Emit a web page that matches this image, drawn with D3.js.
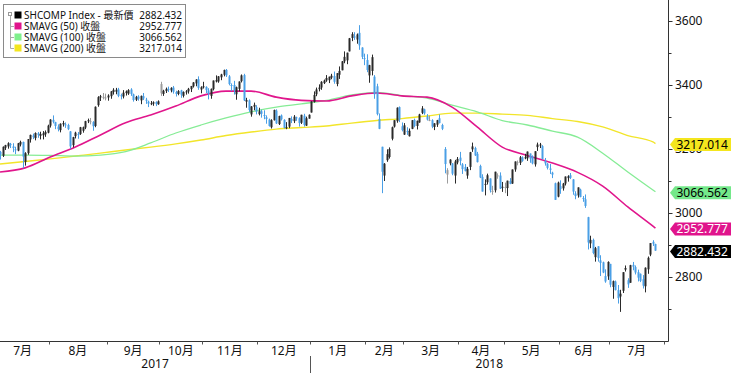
<!DOCTYPE html>
<html>
<head>
<meta charset="utf-8">
<script src="https://cdn.jsdelivr.net/npm/d3@7"></script>
<style>
  body { margin: 0; background: #fff; }
  svg { display: block; }
  text { font-family: "Noto Sans", "Noto Sans CJK TC", sans-serif; }
</style>
</head>
<body>
<script>
  // daily candles, [open, high, low, close], one array per month
  var jul17 = [[3187,3196,3173,3195],[3191,3194,3167,3183],[3179,3208,3175,3207],[3204,3213,3197,3212],[3208,3221,3201,3218],
    [3216,3219,3203,3212],[3208,3218,3190,3203],[3199,3207,3184,3197],[3195,3219,3193,3218],[3214,3226,3208,3222],
    [3222,3223,3140,3176],[3160,3190,3148,3187],[3187,3231,3182,3231],[3230,3245,3220,3244],[3242,3248,3231,3237],
    [3234,3252,3227,3250],[3249,3253,3235,3244],[3241,3254,3230,3247],[3243,3256,3230,3249],[3246,3258,3238,3253],
    [3251,3276,3249,3273]];
  var aug17 = [[3273,3293,3267,3292],[3291,3305,3280,3285],[3284,3285,3262,3272],[3270,3277,3255,3262],[3259,3280,3252,3279],
    [3277,3288,3270,3281],[3277,3283,3266,3275],[3275,3279,3259,3262],[3255,3256,3200,3208],[3212,3238,3205,3237],
    [3240,3254,3233,3251],[3247,3253,3232,3246],[3247,3269,3244,3268],[3257,3270,3251,3268],[3267,3288,3262,3287],
    [3287,3295,3281,3290],[3286,3297,3277,3287],[3284,3287,3257,3271],[3272,3333,3268,3332],[3337,3365,3332,3362],
    [3361,3369,3350,3365],[3362,3375,3355,3363],[3360,3373,3352,3361]];
  var sep17 = [[3361,3371,3351,3367],[3365,3381,3357,3380],[3378,3390,3370,3385],[3379,3391,3371,3385],[3386,3391,3362,3366],
    [3368,3373,3355,3365],[3364,3384,3358,3376],[3375,3383,3367,3380],[3373,3387,3369,3384],[3386,3390,3366,3372],
    [3371,3373,3348,3353],[3354,3366,3350,3363],[3364,3368,3351,3357],[3352,3367,3340,3366],[3365,3375,3353,3358],
    [3354,3360,3341,3353],[3348,3351,3331,3342],[3341,3350,3337,3343],[3342,3349,3335,3346],[3347,3349,3334,3340],
    [3340,3352,3338,3349]];
  var oct17 = [[3403,3410,3366,3374],[3372,3385,3366,3382],[3381,3392,3375,3388],[3388,3395,3378,3386],[3383,3393,3377,3391],
    [3392,3397,3373,3379],[3378,3382,3364,3372],[3372,3384,3368,3381],[3383,3385,3360,3370],[3366,3380,3361,3378],
    [3378,3384,3370,3380],[3380,3391,3373,3388],[3387,3397,3378,3397],[3396,3409,3392,3408],[3405,3418,3396,3417],
    [3418,3427,3385,3391],[3386,3396,3374,3393]];
  var nov17 = [[3394,3410,3389,3396],[3394,3396,3375,3384],[3383,3390,3355,3372],[3366,3389,3357,3388],[3387,3414,3383,3414],
    [3411,3430,3408,3415],[3411,3428,3407,3427],[3424,3435,3415,3433],[3432,3448,3427,3447],[3447,3450,3425,3430],
    [3427,3431,3399,3403],[3400,3405,3381,3399],[3400,3413,3370,3383],[3371,3395,3354,3393],[3388,3411,3380,3411],
    [3412,3433,3408,3430],[3431,3435,3350,3352],[3348,3360,3329,3353],[3352,3355,3316,3322],[3308,3334,3301,3333],
    [3332,3345,3321,3338],[3331,3337,3308,3317]];
  var dec17 = [[3309,3329,3305,3318],[3318,3323,3298,3310],[3306,3321,3293,3304],[3299,3305,3279,3294],[3292,3295,3270,3272],
    [3268,3293,3264,3290],[3290,3323,3289,3322],[3320,3324,3278,3280],[3278,3304,3275,3303],[3305,3308,3289,3293],
    [3291,3293,3264,3266],[3267,3284,3262,3268],[3270,3297,3265,3297],[3294,3302,3281,3288],[3287,3306,3281,3301],
    [3299,3301,3288,3297],[3296,3299,3270,3281],[3282,3307,3278,3307],[3304,3310,3270,3275],[3273,3301,3272,3296],
    [3295,3308,3295,3307]];
  var jan18 = [[3314,3349,3314,3349],[3347,3380,3345,3369],[3371,3392,3365,3386],[3387,3402,3380,3392],[3392,3412,3385,3410],
    [3406,3417,3403,3414],[3414,3431,3410,3422],[3415,3426,3406,3426],[3423,3435,3418,3429],[3428,3442,3404,3410],
    [3403,3437,3396,3437],[3432,3458,3419,3444],[3446,3475,3446,3474],[3474,3505,3468,3488],[3477,3501,3465,3501],
    [3505,3547,3505,3546],[3547,3565,3537,3559],[3552,3565,3541,3548],[3542,3561,3529,3558],[3563,3587,3510,3524],
    [3517,3518,3481,3488],[3484,3498,3462,3481]];
  var feb18 = [[3478,3496,3440,3447],[3430,3463,3407,3462],[3444,3495,3430,3487],[3426,3431,3357,3371],[3396,3404,3305,3309],
    [3294,3311,3262,3263],[3207,3207,3062,3129],[3117,3156,3100,3154],[3165,3199,3160,3184],[3175,3205,3170,3200],
    [3232,3270,3227,3268],[3270,3290,3267,3290],[3287,3330,3282,3329],[3331,3333,3284,3292],[3271,3283,3255,3259]];
  var mar18 = [[3245,3281,3244,3274],[3256,3268,3244,3254],[3240,3264,3239,3257],[3263,3290,3262,3290],[3291,3295,3268,3272],
    [3272,3289,3261,3288],[3283,3310,3282,3308],[3313,3334,3309,3327],[3324,3326,3307,3311],[3302,3309,3289,3292],
    [3290,3304,3287,3291],[3290,3293,3265,3270],[3269,3281,3259,3280],[3276,3291,3269,3290],[3296,3308,3280,3281],
    [3275,3279,3259,3263],[3200,3206,3124,3153],[3120,3140,3092,3134],[3155,3168,3149,3167],[3155,3156,3118,3123],
    [3117,3166,3092,3161],[3158,3175,3152,3169]];
  var apr18 = [[3173,3191,3149,3163],[3152,3156,3122,3137],[3144,3153,3130,3131],[3117,3144,3107,3138],[3144,3191,3134,3190],
    [3199,3220,3191,3208],[3203,3207,3178,3180],[3185,3191,3158,3159],[3147,3151,3109,3111],[3113,3121,3067,3067],
    [3088,3105,3055,3091],[3096,3123,3089,3118],[3108,3108,3064,3071],[3068,3085,3057,3069],[3071,3129,3064,3129],
    [3114,3124,3107,3118],[3117,3127,3075,3076],[3081,3097,3066,3082]];
  var may18 = [[3080,3095,3062,3081],[3078,3101,3053,3101],[3100,3109,3090,3091],[3092,3136,3091,3136],[3136,3161,3129,3161],
    [3158,3164,3149,3159],[3157,3178,3150,3174],[3174,3177,3160,3163],[3171,3185,3168,3174],[3171,3192,3163,3192],
    [3186,3186,3157,3170],[3176,3180,3152,3155],[3152,3193,3145,3193],[3206,3220,3194,3214],[3211,3219,3203,3214],
    [3209,3212,3167,3169],[3163,3172,3148,3155],[3154,3156,3136,3141],[3139,3153,3122,3135],[3126,3129,3109,3120],
    [3093,3095,3041,3041],[3051,3098,3049,3095]];
  var jun18 = [[3084,3102,3060,3075],[3077,3094,3070,3092],[3092,3114,3086,3114],[3109,3118,3098,3115],[3118,3125,3106,3110],
    [3105,3106,3057,3067],[3061,3068,3043,3053],[3055,3080,3048,3080],[3073,3076,3049,3050],[3047,3053,3035,3044],
    [3043,3058,3016,3022],[2987,2988,2886,2908],[2905,2929,2890,2916],[2916,2920,2871,2875],[2862,2894,2848,2890],
    [2896,2896,2848,2859],[2852,2868,2803,2844],[2846,2848,2812,2814],[2803,2824,2782,2786],[2802,2849,2791,2847]];
  var jul18 = [[2841,2841,2768,2776],[2769,2789,2732,2787],[2786,2789,2758,2759],[2759,2775,2717,2734],[2739,2760,2691,2748],
    [2757,2815,2750,2815],[2823,2836,2817,2828],[2790,2796,2766,2777],[2782,2838,2782,2837],[2838,2847,2821,2832],
    [2831,2836,2808,2814],[2815,2823,2786,2798],[2810,2811,2784,2788],[2793,2806,2764,2773],[2771,2830,2752,2829],
    [2824,2864,2810,2860],[2870,2906,2865,2906],[2910,2915,2897,2904],[2903,2904,2882,2882.432]];

  var monthLabels = ["7月", "8月", "9月", "10月", "11月", "12月", "1月", "2月", "3月", "4月", "5月", "6月", "7月"];
  var monthDays = [21, 23, 21, 17, 22, 21, 22, 15, 22, 18, 22, 20, 22];
  var yearLabels = ["2017", "2018"];
  var yearFirstMonth = [0, 6];

  // moving averages read at these trading-day indices
  var maIndex = [1, 11, 21, 31, 41, 51, 61, 71, 81, 91, 101, 111, 121, 131, 141, 151, 161, 171, 181, 191, 201, 211, 221, 231, 241, 251, 261, 262];
  var sma50 = [3128, 3141, 3175, 3206, 3244, 3282, 3306, 3334, 3366, 3381, 3381, 3362, 3352, 3350, 3366, 3375, 3366, 3362, 3331, 3269, 3206, 3180, 3156, 3127, 3084, 3019, 2959, 2952.777];
  var sma100 = [3181, 3181, 3180, 3178, 3181, 3192, 3219, 3250, 3275, 3297, 3316, 3331, 3341, 3352, 3369, 3377, 3367, 3359, 3337, 3316, 3289, 3275, 3256, 3237, 3187, 3128, 3072, 3066.562];
  var sma200 = [3153, 3161, 3169, 3178, 3187, 3197, 3206, 3216, 3228, 3242, 3253, 3262, 3267, 3272, 3281, 3289, 3295, 3303, 3312, 3312, 3309, 3305, 3295, 3286, 3269, 3242, 3222, 3217.014];

  var yMajor = [2800, 3000, 3200, 3400, 3600];
  var yMinor = [2700, 2900, 3100, 3300, 3500];

  var legendNames = ["SHCOMP Index - 最新價", "SMAVG (50) 收盤", "SMAVG (100) 收盤", "SMAVG (200) 收盤"];
  var legendValues = ["2882.432", "2952.777", "3066.562", "3217.014"];
  var legendColors = ["#000000", "#e0148c", "#7ff08c", "#f4e61e"];
  var tagColors = ["#000000", "#e0148c", "#74e88a", "#f4e61e"];
  var tagText = ["#ffffff", "#ffffff", "#000000", "#000000"];

  var candles = [].concat(jul17, aug17, sep17, oct17, nov17, dec17, jan18, feb18, mar18, apr18, may18, jun18, jul18);

  var width = 733, height = 373,
    plotRight = 668.5, plotBottom = 341.5;

  var svg = d3.select("body").append("svg")
    .attr("width", width)
    .attr("height", height);

  var x = d3.scaleLinear().domain([0, 267]).range([-2.5, 668]);
  var y = d3.scaleLinear().domain([2800, 3600]).range([277, 21]);

  svg.append("clipPath").attr("id", "plot")
    .append("rect").attr("x", 0).attr("y", 0).attr("width", plotRight).attr("height", plotBottom);

  var plot = svg.append("g").attr("clip-path", "url(#plot)");

  // moving averages
  var mas = [
    { values: sma200, color: "#f2e52a", width: 1.4 },
    { values: sma100, color: "#86ec96", width: 1.3 },
    { values: sma50, color: "#e0168c", width: 1.6 }
  ];
  var line = d3.line()
    .x(function(d) { return x(d[0]); })
    .y(function(d) { return y(d[1]); })
    .curve(d3.curveMonotoneX);

  plot.selectAll("path.ma")
    .data(mas)
    .enter().append("path")
    .attr("class", "ma")
    .attr("fill", "none")
    .attr("stroke", function(d) { return d.color; })
    .attr("stroke-width", function(d) { return d.width; })
    .attr("d", function(d) { return line(d.values.map(function(v, i) { return [maIndex[i], v]; })); });

  // candle colour: blue when it fell on the day, dark when it rose, grey when body and day disagree
  function candleColor(d, i) {
    var prev = i > 0 ? candles[i - 1][3] : d[0];
    var upBody = d[3] >= d[0], upDay = d[3] >= prev;
    if (upBody && upDay) return "#2a2a2a";
    if (!upBody && !upDay) return "#4a9fe6";
    return "#9c9c9c";
  }

  var candle = plot.selectAll("g.candle")
    .data(candles)
    .enter().append("g")
    .attr("class", "candle");

  candle.append("line")
    .attr("x1", function(d, i) { return Math.round(x(i)) + 0.5; })
    .attr("x2", function(d, i) { return Math.round(x(i)) + 0.5; })
    .attr("y1", function(d) { return y(d[1]); })
    .attr("y2", function(d) { return y(d[2]); })
    .attr("stroke", candleColor)
    .attr("stroke-width", 1);

  candle.append("rect")
    .attr("x", function(d, i) { return Math.round(x(i)) - 0.5; })
    .attr("width", 2)
    .attr("y", function(d) { return Math.min(y(d[0]), y(d[3])); })
    .attr("height", function(d) { return Math.max(1, Math.abs(y(d[0]) - y(d[3]))); })
    .attr("fill", candleColor);

  // right axis
  svg.append("line")
    .attr("x1", plotRight).attr("x2", plotRight)
    .attr("y1", 0).attr("y2", plotBottom)
    .attr("stroke", "#333");

  svg.selectAll("line.minor")
    .data(yMinor)
    .enter().append("line")
    .attr("x1", plotRight).attr("x2", plotRight + 3)
    .attr("y1", function(d) { return Math.round(y(d)) + 0.5; })
    .attr("y2", function(d) { return Math.round(y(d)) + 0.5; })
    .attr("stroke", "#333");

  svg.selectAll("line.major")
    .data(yMajor)
    .enter().append("line")
    .attr("x1", plotRight).attr("x2", plotRight + 4)
    .attr("y1", function(d) { return Math.round(y(d)) + 0.5; })
    .attr("y2", function(d) { return Math.round(y(d)) + 0.5; })
    .attr("stroke", "#333");

  svg.selectAll("text.ytick")
    .data(yMajor)
    .enter().append("text")
    .attr("x", 675)
    .attr("y", function(d) { return y(d); })
    .attr("dy", "0.35em")
    .attr("font-size", 12)
    .attr("fill", "#111")
    .text(function(d) { return d; });

  // last value tags
  var tagValues = legendValues.map(Number);
  var tag = svg.selectAll("g.tag")
    .data(tagValues)
    .enter().append("g")
    .attr("class", "tag")
    .attr("transform", function(d) { return "translate(0," + (y(d) + 1) + ")"; });

  tag.append("path")
    .attr("d", "M670,0L675,-6.5H731V6.5H675Z")
    .attr("fill", function(d, i) { return tagColors[i]; });

  tag.append("text")
    .attr("x", 676.5)
    .attr("dy", "0.36em")
    .attr("font-size", 12)
    .attr("fill", function(d, i) { return tagText[i]; })
    .text(function(d, i) { return legendValues[i]; });

  // bottom axis
  svg.append("line")
    .attr("x1", 0).attr("x2", plotRight)
    .attr("y1", plotBottom).attr("y2", plotBottom)
    .attr("stroke", "#333");

  var starts = [0];
  monthDays.forEach(function(n, i) { starts.push(starts[i] + n); });

  svg.selectAll("line.mtick")
    .data(starts.slice(1))
    .enter().append("line")
    .attr("x1", function(d) { return Math.round(x(d - 0.5)) + 0.5; })
    .attr("x2", function(d) { return Math.round(x(d - 0.5)) + 0.5; })
    .attr("y1", plotBottom).attr("y2", plotBottom + 3)
    .attr("stroke", "#555");

  svg.selectAll("text.month")
    .data(monthLabels)
    .enter().append("text")
    .attr("x", function(d, i) { return x((starts[i] + starts[i + 1]) / 2 - 0.5); })
    .attr("y", 355)
    .attr("text-anchor", "middle")
    .attr("font-size", 12)
    .attr("fill", "#111")
    .text(function(d) { return d; });

  var yearEdges = [0, x(starts[yearFirstMonth[1]] - 0.5), plotRight];
  svg.append("line")
    .attr("x1", Math.round(yearEdges[1]) + 0.5).attr("x2", Math.round(yearEdges[1]) + 0.5)
    .attr("y1", 356).attr("y2", 373)
    .attr("stroke", "#555");

  svg.selectAll("text.year")
    .data(yearLabels)
    .enter().append("text")
    .attr("x", function(d, i) { return (yearEdges[i] + yearEdges[i + 1]) / 2; })
    .attr("y", 368)
    .attr("text-anchor", "middle")
    .attr("font-size", 12)
    .attr("fill", "#111")
    .text(function(d) { return d; });

  // legend
  var legend = svg.append("g");
  legend.append("rect")
    .attr("x", 3.5).attr("y", 4.5)
    .attr("width", 182).attr("height", 53)
    .attr("fill", "#fff")
    .attr("stroke", "#8a8a8a");

  legend.append("rect")
    .attr("x", 8.5).attr("y", 12.5).attr("width", 3).attr("height", 3)
    .attr("fill", "none").attr("stroke", "#999");
  legend.append("line")
    .attr("x1", 10.5).attr("x2", 10.5).attr("y1", 16).attr("y2", 48.5)
    .attr("stroke", "#aaa");

  var row = legend.selectAll("g.row")
    .data(legendNames)
    .enter().append("g")
    .attr("class", "row")
    .attr("transform", function(d, i) { return "translate(0," + (15 + i * 11) + ")"; });

  row.filter(function(d, i) { return i > 0; }).append("line")
    .attr("x1", 10.5).attr("x2", 14).attr("y1", 0.5).attr("y2", 0.5)
    .attr("stroke", "#aaa");

  row.append("rect")
    .attr("x", 14.5).attr("y", -3.5)
    .attr("width", 7).attr("height", 7)
    .attr("fill", function(d, i) { return legendColors[i]; });

  row.append("text")
    .attr("x", 24)
    .attr("dy", "0.36em")
    .attr("font-size", 10)
    .attr("fill", "#111")
    .text(function(d) { return d; });

  row.append("text")
    .attr("x", 182)
    .attr("dy", "0.36em")
    .attr("text-anchor", "end")
    .attr("font-size", 10)
    .attr("fill", "#111")
    .text(function(d, i) { return legendValues[i]; });
</script>
</body>
</html>
